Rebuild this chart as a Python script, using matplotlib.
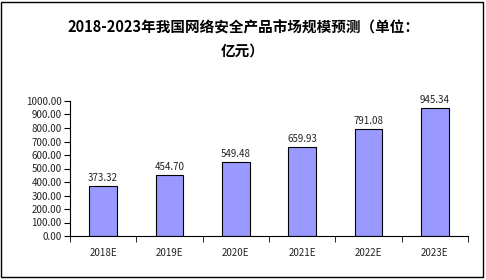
import matplotlib
matplotlib.use('Agg')
import matplotlib.pyplot as plt
from matplotlib.patches import Rectangle
import numpy as np

plt.rcParams['font.family'] = ['Noto Sans CJK SC', 'DejaVu Sans']

# Daten
jahre = ['2018E', '2019E', '2020E', '2021E', '2022E', '2023E']
werte = [373.32, 454.70, 549.48, 659.93, 791.08, 945.34]
titel = '2018-2023年我国网络安全产品市场规模预测（单位：\n亿元）'

fig = plt.figure(figsize=(4.86, 2.80), dpi=100)
ax = fig.add_axes([70/486, 1 - 236/280, 398/486, 135/280])

x = np.arange(len(jahre))
ax.bar(x, werte, width=0.42, color='#9999FF', edgecolor='black', linewidth=0.8)
for xi, w in zip(x, werte):
    ax.text(xi, w + 22, '%.2f' % w, ha='center', va='bottom', fontsize=7, color='#222222')

ax.set_xlim(-0.5, len(jahre) - 0.5)
ax.set_ylim(0, 1000)
ax.set_yticks(np.arange(0, 1001, 100))
ax.set_yticklabels(['%.2f' % v for v in np.arange(0, 1001, 100)], fontsize=7, color='#222222')
ax.set_xticks(x)
ax.set_xticklabels(jahre, fontsize=7, color='#222222')
ax.set_xticks(np.arange(-0.5, len(jahre)), minor=True)
ax.tick_params(axis='x', which='major', length=0, pad=9)
ax.tick_params(axis='x', which='minor', length=4, direction='out')
ax.tick_params(axis='y', length=4, direction='out', pad=2)
ax.spines['top'].set_visible(False)
ax.spines['right'].set_visible(False)

fig.text(0.5, 1 - 39/280, titel, ha='center', va='center', fontsize=10.5,
         fontweight='bold', linespacing=1.5)

fig.patches.append(Rectangle((1/486, 3/280), 482/486, 275/280, transform=fig.transFigure,
                             fill=False, edgecolor='black', linewidth=1))

plt.savefig('out.png', dpi=100)
